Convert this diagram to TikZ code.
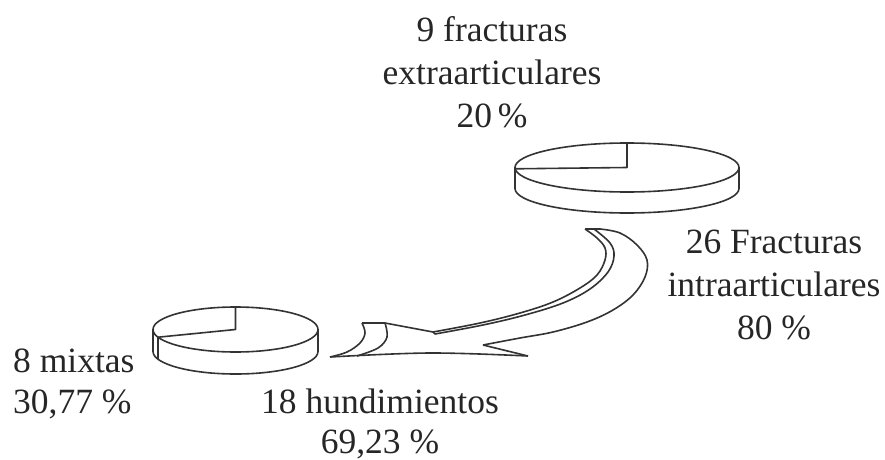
\documentclass[tikz,border=0pt]{standalone}
\usepackage{fontspec}
\setmainfont{Liberation Serif}
\usepackage{tikz}
\usetikzlibrary{positioning}

\tikzset{
	ink/.style={line width=1.6pt, draw=black!80, line join=round},
	lab/.style={inner sep=0pt, align=center, text=black!85, font=\fontsize{35.5}{43}\selectfont},
}

\begin{document}
\begin{tikzpicture}[x=1pt, y=1pt]
			\useasboundingbox	(0, 0) rectangle (885, 459);

			\draw	[ink]	(627, 291.5) ellipse [x radius=112, y radius=24.5];
			\draw	[ink]	(515, 291.5) -- (515, 270.5) arc [start angle=180, end angle=360, x radius=112, y radius=24.5] -- (739, 291.5);
			\draw	[ink]	(627, 316) -- (627, 291.5) -- (515.2, 290.2);

			\draw	[ink]	(235.5, 129.5) ellipse [x radius=82.5, y radius=22.5];
			\draw	[ink]	(153, 129.5) -- (153, 107.5) arc [start angle=180, end angle=360, x radius=82.5, y radius=22.5] -- (318, 129.5);
			\draw	[ink]	(235.5, 152) -- (235.5, 129.5) -- (158, 121.8) -- (158, 99.8);

			\draw	[ink]	(585, 230) -- (600, 230);
			\draw	[ink]	plot[smooth, tension=.6] coordinates {(585, 230) (597, 221) (605, 211) (605, 199) (597, 184) (580, 171) (553, 157) (520, 146) (480, 136) (433, 127)};
			\draw	[ink]	plot[smooth, tension=.6] coordinates {(594, 230) (610, 216) (614, 203) (608, 187) (590, 170) (563, 156) (525, 144) (483, 134) (435, 125)} -- (433, 127);
			\draw	[ink]	plot[smooth, tension=.6] coordinates {(600, 230) (620, 226) (637, 214) (647, 199) (645, 182) (633, 164) (613, 149) (587, 137) (553, 127) (520, 121) (483, 114)};
			\draw	[ink]	(483, 114) -- (528, 103);
			\draw	[ink]	plot[smooth, tension=.6] coordinates {(528, 103) (430, 106) (330, 102)};
			\draw	[ink]	plot[smooth, tension=.6] coordinates {(330, 102) (347, 107) (360, 116) (365, 126) (362, 136)};
			\draw	[ink]	(362, 136) -- (385, 136) -- (433, 127);
			\draw	[ink]	plot[smooth, tension=.6] coordinates {(385, 136) (387, 122) (378, 111) (357, 103)};

			\node	(extra)	at	(492, 332)	[lab, anchor=base]	{9 fracturas\\extraarticulares\\20\,\%};
			\node	(intra)	at	(774, 120)	[lab, anchor=base]	{26 Fracturas\\intraarticulares\\80 \%};
			\node	(mixtas)	at	(13, 46)	[lab, anchor=base west, align=left, font=\fontsize{35.5}{41}\selectfont]	{8 mixtas\\30,77 \%};
			\node	(hund)	at	(380, 6)	[lab, anchor=base, font=\fontsize{35.5}{40}\selectfont]	{18 hundimientos\\69,23 \%};
		\end{tikzpicture}
\end{document}
